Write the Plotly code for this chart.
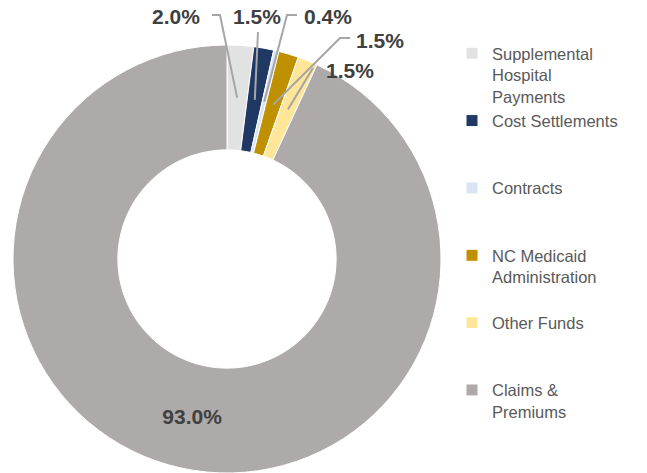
import math
import plotly.graph_objects as go

# ---- data ----
categories = ["Supplemental Hospital Payments", "Cost Settlements", "Contracts",
              "NC Medicaid Administration", "Other Funds", "Claims & Premiums"]
shares = [2.0, 1.5, 0.4, 1.5, 1.5, 93.0]
legend_text = ["Supplemental<br>Hospital<br>Payments", "Cost Settlements<br> <br> ",
               "Contracts<br> <br> ", "NC Medicaid<br>Administration<br> ",
               "Other Funds<br> <br> ", "Claims &<br>Premiums"]
colors = ["#E2E2E2", "#1F3864", "#DAE3F3", "#BF9000", "#FFE699", "#AEAAAA"]

# ---- layout geometry (pixels) ----
W, H = 647, 473
X0, X1, YT, YB = 13, 441, 45, 473
HOLE = 0.51
cx, cy = (X0 + X1) / 2, (YT + YB) / 2
R = min(X1 - X0, YB - YT) / 2

def px(x):
    return x / W

def py(y):
    return 1 - y / H

# label text centres and leader elbow points for the small slices (pixels)
label_pos = [(176, 17), (257, 16), (328, 16), (380, 41), (350, 70)]
elbows = [[(220, 15), (212, 15)], [(258, 32)], [(287, 15), (297, 15)],
          [(340, 38), (350, 38)], [(313, 68)]]

FONT = "Liberation Sans, Arial, sans-serif"

fig = go.Figure(go.Pie(
    labels=legend_text,
    values=shares,
    sort=False,
    direction="clockwise",
    rotation=0,
    hole=HOLE,
    marker=dict(colors=colors, line=dict(color="white", width=1)),
    text=[f"{v:.1f}%" if v > 50 else "" for v in shares],
    textinfo="text",
    textposition=["none" if v < 50 else "inside" for v in shares],
    insidetextorientation="horizontal",
    textfont=dict(family=FONT, size=21, color="#404040", weight="bold"),
    domain=dict(x=[px(X0), px(X1)], y=[py(YB), py(YT)]),
    hoverinfo="skip",
))

# leader lines + labels computed from the data
cum = 0.0
total = sum(shares)
r_mid = (R + R * HOLE) / 2
annotations, shapes = [], []
for i, v in enumerate(shares):
    mid = (cum + v / 2) / total * 2 * math.pi
    cum += v
    if i >= len(label_pos):
        continue
    ax = cx + r_mid * math.sin(mid)
    ay = cy - r_mid * math.cos(mid)
    pts = [(ax, ay)] + elbows[i]
    path = "M " + " L ".join(f"{px(x)},{py(y)}" for x, y in pts)
    shapes.append(dict(type="path", path=path, xref="paper", yref="paper",
                       line=dict(color="#A6A6A6", width=2)))
    tx, ty = label_pos[i]
    annotations.append(dict(x=px(tx), y=py(ty), xref="paper", yref="paper",
                            text=f"{v:.1f}%", showarrow=False,
                            xanchor="center", yanchor="middle",
                            font=dict(family=FONT, size=21, color="#404040", weight="bold")))

fig.update_layout(
    width=W, height=H,
    margin=dict(l=0, r=0, t=0, b=0),
    paper_bgcolor="white", plot_bgcolor="white",
    showlegend=True,
    legend=dict(x=px(452), y=py(36), xanchor="left", yanchor="top",
                valign="top", font=dict(family=FONT, size=16.5, color="#595959"),
                bgcolor="rgba(0,0,0,0)", traceorder="normal"),
    annotations=annotations,
    shapes=shapes,
)

fig.write_html("out.html")
